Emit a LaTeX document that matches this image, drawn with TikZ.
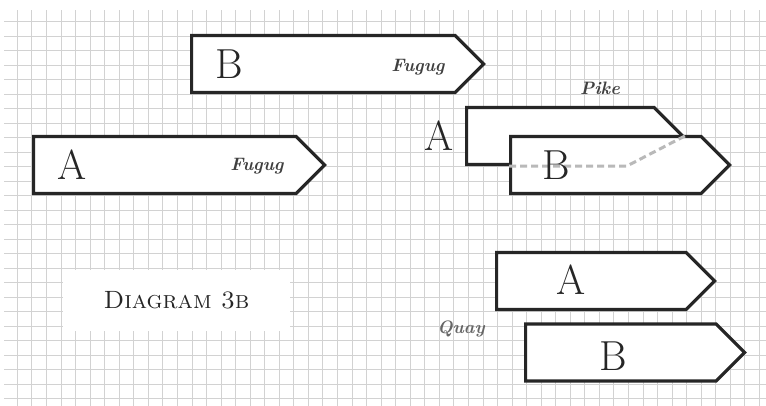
\documentclass[tikz,border=0pt]{standalone}
\usetikzlibrary{shapes.symbols,positioning}
\begin{document}
\begin{tikzpicture}[x=1pt,y=1pt,gridline/.style={draw=gray!35, line width=0.8pt},tag/.style={signal, signal to=east, signal pointer angle=90, draw=black!85, fill=white, line width=3.2pt, inner sep=0pt, minimum height=57pt, anchor=west},letter/.style={font=\fontsize{42}{42}\selectfont, text=black!85},script/.style={font=\fontsize{18}{18}\itshape\bfseries\selectfont, text=black!75},hidden/.style={draw=gray!55, line width=3pt, dash pattern=on 7pt off 4pt}]
                    \useasboundingbox (0,0) rectangle (766,406);
                    % squared paper
                    \foreach \i in {0,...,51} \draw[gridline] (17.3+\i*14.55,0) -- (17.3+\i*14.55,396);
                    \foreach \j in {0,...,26} \draw[gridline] (4,384.3-\j*14.5) -- (766,384.3-\j*14.5);
                    % Fugug
                    \node[tag, minimum width=292pt] (fugugB) at (190,342) {};
                    \node[letter, right=22pt of fugugB.west] (labB) {B};
                    \node[script] (fugug1) at (418,339) {Fugug};
                    \node[tag, minimum width=291pt] (fugugA) at (32,241) {};
                    \node[letter, right=22pt of fugugA.west] (labA) {A};
                    \node[script] (fugug2) at (257,240) {Fugug};
                    % Pike
                    \node[tag, minimum width=216pt] (pikeA) at (465,270) {};
                    \node[tag, minimum width=219pt] (pikeB) at (509,241) {};
                    \draw[hidden] (pikeA.east) -- ([xshift=-28pt]pikeA.south east) -- (pikeB.west |- pikeA.south);
                    \node[letter, left=8pt of pikeA.west] (pikeLabA) {A};
                    \node[letter, right=30pt of pikeB.west] (pikeLabB) {B};
                    \node[script] (pike) at (600,318) {Pike};
                    % Quay
                    \node[tag, minimum width=218pt] (quayA) at (495,125) {};
                    \node[tag, minimum width=219pt] (quayB) at (524,53.5) {};
                    \node[letter] (quayLabA) at (571,126) {A};
                    \node[letter] (quayLabB) at (613,50) {B};
                    \node[script, text=black!60] (quay) at (461,77) {Quay};
                    % caption
                    \node[fill=white, minimum width=227pt, minimum height=61pt, font=\fontsize{25}{25}\selectfont, text=black!85] (caption) at (176.5,105.5) {\textsc{Diagram 3b}};
                \end{tikzpicture}
\end{document}
